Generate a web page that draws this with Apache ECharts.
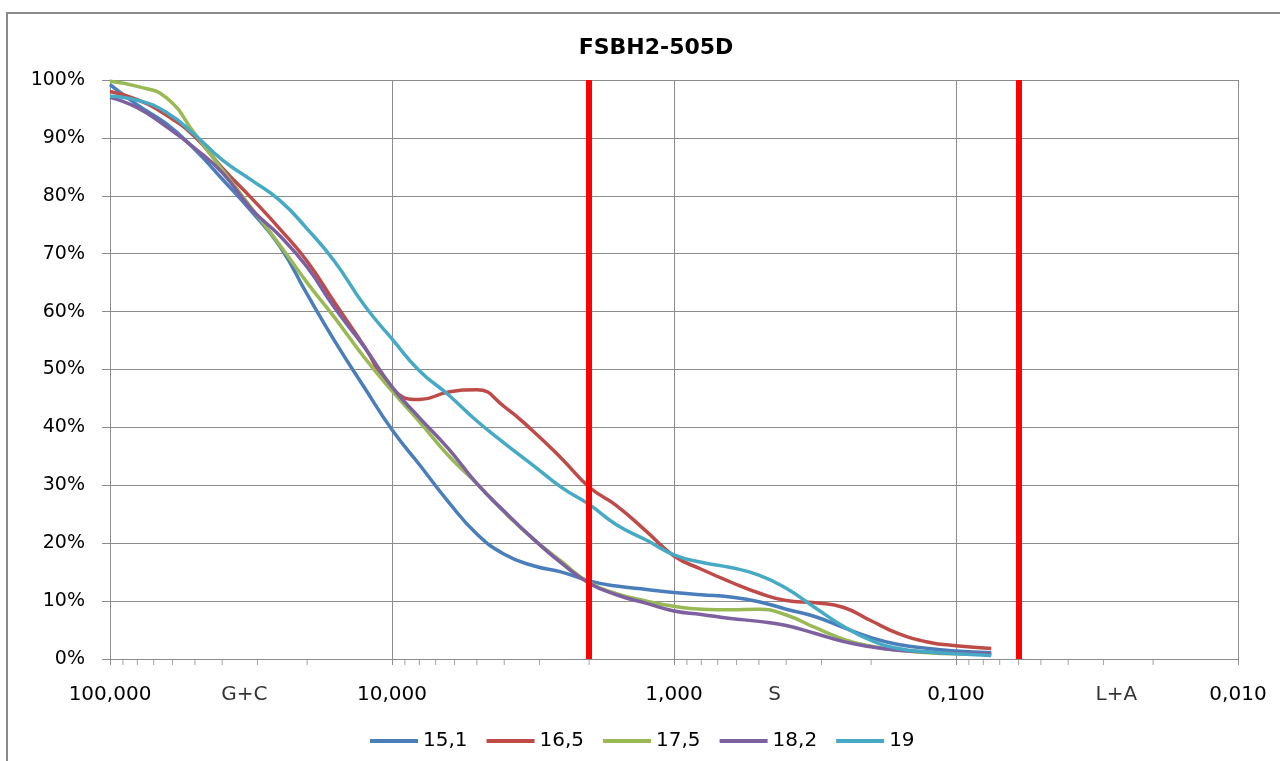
<!DOCTYPE html>
<html>
<head>
<meta charset="utf-8">
<title>FSBH2-505D</title>
<script src="https://cdn.jsdelivr.net/npm/echarts@6/dist/echarts.min.js"></script>
<style>
  html, body { margin: 0; padding: 0; background: #fff; }
  #main { width: 1280px; height: 761px; }
</style>
</head>
<body>
<div id="main"></div>
<script type="text/javascript">
// grain sizes (mm) and passing percentages
var sizes = [100, 80, 63, 50, 40, 31.5, 25, 20, 16, 12.5, 10, 8, 6.3, 5, 4, 3.15, 2.5, 2, 1.6, 1.25, 1, 0.8, 0.63, 0.5, 0.4, 0.315, 0.25, 0.2, 0.16, 0.125, 0.1, 0.075];
var s151 = [99.2, 95.7, 92.4, 88.0, 82.9, 77.3, 71.3, 63.0, 55.0, 46.8, 39.6, 33.6, 27.1, 21.6, 18.1, 16.1, 15.0, 13.5, 12.6, 12.0, 11.5, 11.1, 10.7, 9.9, 8.6, 7.3, 5.4, 3.7, 2.5, 1.8, 1.4, 1.1];
var s165 = [98.0, 96.6, 93.9, 90.2, 84.8, 79.6, 74.3, 68.7, 61.6, 53.9, 46.7, 44.8, 46.1, 46.5, 43.6, 39.3, 34.6, 29.7, 26.5, 22.0, 17.8, 15.5, 13.3, 11.4, 10.1, 9.7, 8.9, 6.6, 4.4, 2.9, 2.3, 1.8];
var s175 = [99.8, 98.9, 96.9, 90.7, 84.5, 77.9, 71.5, 65.0, 59.0, 52.0, 46.3, 41.0, 35.1, 30.3, 25.4, 20.7, 16.8, 13.2, 11.3, 10.0, 9.1, 8.6, 8.5, 8.6, 7.6, 5.4, 3.4, 2.2, 1.5, 1.1, 0.9, 0.8];
var s182 = [97.0, 95.2, 91.9, 88.2, 84.0, 77.7, 73.1, 67.7, 60.7, 53.8, 47.0, 41.7, 36.3, 30.3, 25.5, 20.7, 16.5, 13.1, 11.1, 9.6, 8.3, 7.7, 7.0, 6.5, 5.8, 4.4, 3.0, 2.1, 1.5, 1.2, 1.0, 0.9];
var s19  = [97.2, 96.5, 94.4, 90.5, 86.2, 82.7, 79.2, 74.3, 68.7, 61.0, 55.3, 49.8, 45.6, 41.1, 37.3, 33.4, 29.6, 26.7, 23.2, 20.5, 18.0, 16.7, 15.8, 14.5, 12.2, 8.8, 5.6, 3.2, 1.8, 1.2, 0.9, 0.6];

var seriesNames = ['15,1', '16,5', '17,5', '18,2', '19'];
var seriesData = [s151, s165, s175, s182, s19];
var seriesColors = ['#4A7EBB', '#BE4B48', '#98B954', '#7D60A0', '#46AAC5'];

// class limits (mm) and class labels
var limits = [2, 0.06];
var zoneNames = ['G+C', 'S', 'L+A'];
var zonePos = [33.4, 0.44, 0.027];

// minor tick values of the log axis
var minorTicks = [90, 80, 70, 60, 50, 40, 30, 20,
                  9, 8, 7, 6, 5, 4, 3, 2,
                  0.9, 0.8, 0.7, 0.6, 0.5, 0.4, 0.3, 0.2,
                  0.09, 0.08, 0.07, 0.06, 0.05, 0.04, 0.03, 0.02];

var FONT = 'DejaVu Sans';
var GRID_COLOR = '#8c8c8c';

function pairs(ys) {
    return sizes.map(function (d, i) { return [d, ys[i]]; });
}

var series = seriesNames.map(function (name, i) {
    return {
        name: name,
        type: 'line',
        data: pairs(seriesData[i]),
        smooth: true,
        symbol: 'none',
        lineStyle: { width: 3.5, color: seriesColors[i] },
        itemStyle: { color: seriesColors[i] }
    };
});

series.push({
    name: 'minor',
    type: 'scatter',
    data: minorTicks.map(function (v) { return [v, 0]; }),
    symbol: 'rect',
    symbolSize: [1, 6],
    symbolOffset: [0, 3],
    itemStyle: { color: GRID_COLOR },
    clip: false,
    silent: true
});

series.push({
    name: 'zones',
    type: 'scatter',
    data: zonePos.map(function (v) { return [v, 0]; }),
    symbolSize: 0,
    clip: false,
    silent: true,
    label: {
        show: true,
        position: 'bottom',
        distance: 26,
        fontSize: 20,
        fontFamily: FONT,
        color: '#000',
        formatter: function (p) { return zoneNames[p.dataIndex]; }
    },
    markLine: {
        silent: true,
        symbol: ['none', 'none'],
        label: { show: false },
        lineStyle: { color: '#FF0000', width: 6, type: 'solid' },
        data: limits.map(function (v) { return { xAxis: v }; })
    }
});

var myChart = echarts.init(document.getElementById('main'));
var option = {
    animation: false,
    backgroundColor: '#fff',
    title: {
        text: 'FSBH2-505D',
        left: 651,
        top: 32,
        textAlign: 'center',
        textStyle: { fontFamily: FONT, fontSize: 22, fontWeight: 'bold', color: '#000' }
    },
    legend: {
        data: seriesNames,
        left: 365,
        top: 726,
        icon: 'rect',
        itemWidth: 48,
        itemHeight: 4,
        itemGap: 19,
        textStyle: { fontFamily: FONT, fontSize: 20, color: '#000' }
    },
    grid: { left: 110, right: 42, top: 80, bottom: 102, containLabel: false },
    xAxis: {
        type: 'log',
        logBase: 10,
        min: 0.01,
        max: 100,
        inverse: true,
        axisLine: { show: true, lineStyle: { color: GRID_COLOR, width: 1 } },
        axisTick: { show: true, length: 6, lineStyle: { color: GRID_COLOR } },
        splitLine: { show: true, lineStyle: { color: GRID_COLOR, width: 1 } },
        axisLabel: {
            margin: 26,
            fontFamily: FONT,
            fontSize: 20,
            color: '#000',
            showMinLabel: true,
            showMaxLabel: true,
            formatter: function (v) { return Number(v).toFixed(3).replace('.', ','); }
        }
    },
    yAxis: {
        type: 'value',
        min: 0,
        max: 100,
        interval: 10,
        axisLine: { show: true, lineStyle: { color: GRID_COLOR, width: 1 } },
        axisTick: { show: true, length: 8, lineStyle: { color: GRID_COLOR } },
        splitLine: { show: true, lineStyle: { color: GRID_COLOR, width: 1 } },
        axisLabel: {
            margin: 25,
            fontFamily: FONT,
            fontSize: 19,
            color: '#000',
            formatter: '{value}%'
        }
    },
    graphic: [{
        type: 'rect',
        silent: true,
        shape: { x: 7, y: 13, width: 1300, height: 800 },
        style: { fill: 'none', stroke: '#8a8a8a', lineWidth: 2 }
    }],
    series: series
};
myChart.setOption(option);
</script>
</body>
</html>
